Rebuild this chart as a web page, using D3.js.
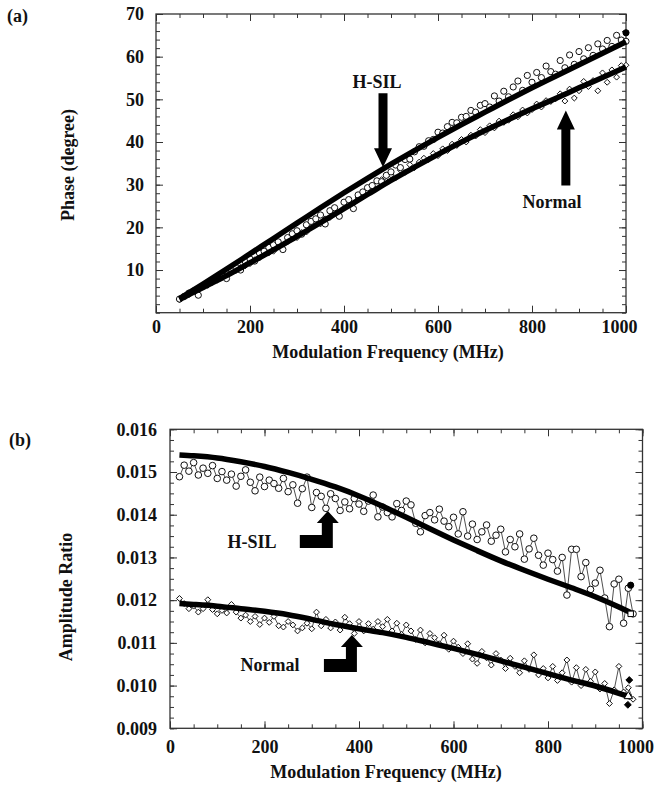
<!DOCTYPE html>
<html>
<head>
<meta charset="utf-8">
<script src="https://cdn.jsdelivr.net/npm/d3@7/dist/d3.min.js"></script>
<style>
  body { margin: 0; background: #fff; }
  svg text { font-family: "Liberation Serif", "Times New Roman", serif; font-weight: bold; fill: #111; }
  .tick line { stroke: #333; stroke-width: 1; }
  .frame { fill: none; stroke: #333; stroke-width: 1.3; }
  .fit { fill: none; stroke: #000; stroke-linecap: butt; }
  .pt { fill: #fff; stroke: #111; stroke-width: 1; }
  .zig { fill: none; stroke: #222; stroke-width: 0.8; }
</style>
</head>
<body>
<div id="chart"></div>
<script>
// ---- panel (a): phase vs modulation frequency ----
const phaseFreq = [50,60,70,80,90,100,110,120,130,140,150,160,170,180,190,200,210,220,230,240,
  250,260,270,280,290,300,310,320,330,340,350,360,370,380,390,400,410,420,430,440,
  450,460,470,480,490,500,510,520,530,540,550,560,570,580,590,600,610,620,630,640,
  650,660,670,680,690,700,710,720,730,740,750,760,770,780,790,800,810,820,830,840,
  850,860,870,880,890,900,910,920,930,940,950,960,970,980,990,1000];

const phaseHsil = [3.2,3.8,4.6,5.1,4.1,6.2,6.8,7.6,8.3,8.9,8.0,10.1,10.6,10.0,12.0,12.6,12.1,14.0,14.4,15.3,
  15.9,16.6,14.8,17.6,18.5,19.2,18.4,20.6,21.4,22.0,22.9,20.8,23.9,24.6,22.6,25.9,26.5,24.4,27.6,28.3,
  29.3,29.8,30.9,30.7,32.2,33.0,34.6,34.0,35.9,36.0,37.7,38.9,39.0,40.3,40.6,42.3,42.1,43.6,44.6,44.5,
  45.8,46.0,47.4,47.0,48.6,49.0,48.2,50.8,49.6,51.9,50.6,52.9,54.3,52.1,55.6,54.0,56.3,55.1,57.8,56.5,
  55.9,59.1,57.4,60.4,58.2,61.2,59.5,62.1,60.3,63.0,61.8,63.8,62.4,65.0,63.9,63.6];

const phaseNormal = [3.0,3.8,4.2,4.9,5.3,6.0,6.4,7.1,7.6,8.2,8.6,9.4,9.9,10.6,11.0,11.5,12.4,12.8,13.6,14.0,
  14.4,15.5,15.8,16.6,17.4,17.6,18.8,18.9,20.0,20.6,20.8,22.0,22.3,23.4,23.6,24.6,25.5,25.6,26.9,27.3,
  28.4,28.6,29.9,31.2,30.8,32.3,31.6,33.4,32.9,34.7,34.0,35.3,36.2,35.9,37.3,36.8,38.4,38.0,39.5,39.2,
  40.6,40.0,41.6,41.4,42.9,42.2,43.8,43.3,44.9,44.6,45.1,46.4,45.9,47.5,46.8,47.6,48.9,48.2,49.7,49.5,
  50.1,51.3,49.6,52.4,50.3,52.0,54.2,53.0,54.4,52.0,56.2,54.0,56.9,55.2,57.9,58.0];

const phaseFitFreq = [50,100,150,200,250,300,350,400,450,500,550,600,650,700,750,800,850,900,950,1000];
const phaseFitHsil = [3.3,6.7,10.2,13.8,17.4,21.0,24.6,28.1,31.5,34.8,38.0,41.1,44.1,47.0,49.9,52.7,55.4,58.1,60.8,63.5];
const phaseFitNormal = [3.1,5.9,8.7,11.7,14.7,17.9,21.1,24.4,27.7,31.0,34.1,37.1,40.0,42.7,45.3,47.8,50.2,52.7,55.1,57.6];

const phaseXTicks = [0,200,400,600,800,1000];
const phaseYTicks = [10,20,30,40,50,60,70];

// ---- panel (b): amplitude ratio vs modulation frequency ----
const ampFreq = [20,30,40,50,60,70,80,90,100,110,120,130,140,150,160,170,180,190,200,210,
  220,230,240,250,260,270,280,290,300,310,320,330,340,350,360,370,380,390,400,410,
  420,430,440,450,460,470,480,490,500,510,520,530,540,550,560,570,580,590,600,610,
  620,630,640,650,660,670,680,690,700,710,720,730,740,750,760,770,780,790,800,810,
  820,830,840,850,860,870,880,890,900,910,920,930,940,950,960,970,980];

const ampHsil = [0.01489,0.01516,0.01502,0.01522,0.01493,0.01509,0.01497,0.01515,0.01485,0.01501,
  0.01481,0.01495,0.01467,0.01490,0.01505,0.01476,0.01456,0.01488,0.01466,0.01481,
  0.01473,0.01462,0.01485,0.01454,0.01470,0.01427,0.01461,0.01488,0.01417,0.01452,
  0.01443,0.01415,0.01449,0.01438,0.01410,0.01430,0.01414,0.01438,0.01425,0.01408,
  0.01432,0.01446,0.01395,0.01418,0.01405,0.01395,0.01426,0.01410,0.01432,0.01423,
  0.01380,0.01360,0.01398,0.01405,0.01388,0.01413,0.01385,0.01372,0.01394,0.01355,
  0.01407,0.01350,0.01378,0.01342,0.01360,0.01376,0.01338,0.01352,0.01366,0.01313,
  0.01342,0.01325,0.01355,0.01296,0.01320,0.01345,0.01305,0.01282,0.01310,0.01295,
  0.01268,0.01300,0.01212,0.01319,0.01319,0.01255,0.01288,0.01225,0.01240,0.01270,
  0.01205,0.01138,0.01238,0.01249,0.01146,0.01228,0.01168];

const ampNormal = [0.01204,0.01192,0.01180,0.01186,0.01172,0.01180,0.01201,0.01178,0.01168,0.01176,
  0.01170,0.01190,0.01172,0.01158,0.01165,0.01150,0.01162,0.01143,0.01158,0.01148,
  0.01162,0.01140,0.01137,0.01150,0.01142,0.01128,0.01135,0.01146,0.01133,0.01172,
  0.01140,0.01155,0.01135,0.01149,0.01130,0.01160,0.01145,0.01122,0.01150,0.01128,
  0.01145,0.01132,0.01150,0.01138,0.01155,0.01128,0.01146,0.01120,0.01142,0.01128,
  0.01108,0.01130,0.01100,0.01122,0.01112,0.01098,0.01118,0.01085,0.01104,0.01090,
  0.01075,0.01098,0.01062,0.01052,0.01080,0.01065,0.01048,0.01075,0.01060,0.01040,
  0.01064,0.01045,0.01030,0.01058,0.01038,0.01072,0.01025,0.01040,0.01018,0.01045,
  0.01012,0.01030,0.01060,0.01008,0.01042,0.01000,0.01038,0.01010,0.01032,0.00992,
  0.01005,0.00958,0.00990,0.01045,0.00985,0.00995,0.00968];

const ampFitFreq = [20,50,100,150,200,250,300,350,400,450,500,550,600,650,700,750,800,850,900,950,975];
const ampFitHsil = [0.01540,0.01538,0.01533,0.01524,0.01513,0.01499,0.01483,0.01465,0.01444,0.01420,
  0.01394,0.01367,0.01341,0.01316,0.01292,0.01270,0.01249,0.01229,0.01208,0.01184,0.01171];
const ampFitNormal = [0.01192,0.01190,0.01186,0.01180,0.01174,0.01166,0.01155,0.01143,0.01133,0.01124,
  0.01113,0.01100,0.01087,0.01073,0.01058,0.01043,0.01028,0.01013,0.00999,0.00982,0.00973];

// stray end-point symbols
const ampEndMarks = [
  { f: 975, v: 0.01235, shape: "circle", filled: true },
  { f: 975, v: 0.01168, shape: "square", filled: false },
  { f: 972, v: 0.01013, shape: "diamond", filled: true },
  { f: 970, v: 0.00975, shape: "triangle", filled: false },
  { f: 969, v: 0.00955, shape: "diamond", filled: true }
];
const phaseEndMarks = [ { f: 1000, v: 65.6, shape: "circle", filled: true } ];

const ampXTicks = [0,200,400,600,800,1000];
const ampYTicks = [0.009,0.010,0.011,0.012,0.013,0.014,0.015,0.016];

const width = 655, height = 787;
const fontSize = 18;
const fontFamily = "'Liberation Serif', 'Times New Roman', Times, serif";

const svg = d3.select("#chart").append("svg")
  .attr("width", width)
  .attr("height", height);

const symbolType = { circle: d3.symbolCircle, square: d3.symbolSquare, diamond: d3.symbolDiamond2, triangle: d3.symbolTriangle };

function drawFrame(g, x, y, o) {

  const [x0, x1] = x.range();
  const [y0, y1] = y.range();

  const bottom = g.append("g").attr("transform", `translate(0,${y0})`);
  bottom.call(d3.axisBottom(x).tickValues(x.ticks(20)).tickSize(-4).tickFormat(""));
  bottom.append("g").call(d3.axisBottom(x).tickValues(o.xTicks).tickSize(-7).tickPadding(o.xPad).tickFormat(d3.format("d")));
  // last label sits a little left of its tick, as in the print
  bottom.selectAll(".tick text").filter((d) => d === 1000).attr("dx", -7);

  const top = g.append("g").attr("transform", `translate(0,${y1})`);
  top.call(d3.axisTop(x).tickValues(x.ticks(20)).tickSize(-4).tickFormat(""));
  top.append("g").call(d3.axisTop(x).tickValues(o.xTicks).tickSize(-7).tickFormat(""));

  const left = g.append("g").attr("transform", `translate(${x0},0)`);
  left.call(d3.axisLeft(y).tickValues(o.yMinor).tickSize(-4).tickFormat(""));
  left.append("g").call(d3.axisLeft(y).tickValues(o.yTicks).tickSize(-7).tickPadding(o.yPad).tickFormat(o.yFormat));

  const right = g.append("g").attr("transform", `translate(${x1},0)`);
  right.call(d3.axisRight(y).tickValues(o.yMinor).tickSize(-4).tickFormat(""));
  right.append("g").call(d3.axisRight(y).tickValues(o.yTicks).tickSize(-7).tickFormat(""));

  g.selectAll(".domain").remove();
  g.selectAll("g").attr("font-family", null).attr("font-size", null);
  g.selectAll(".tick text")
    .style("font-size", fontSize + "px")
    .style("font-family", fontFamily)
    .style("font-weight", "bold");

  g.append("rect")
    .attr("class", "frame")
    .attr("x", x0).attr("y", y1)
    .attr("width", x1 - x0).attr("height", y0 - y1);
}

function drawPoints(g, x, y, freq, vals, kind, r) {

  const pts = d3.zip(freq, vals);
  if (kind === "circle") {
    g.append("g").selectAll("circle")
      .data(pts).enter()
      .append("circle")
        .attr("class", "pt")
        .attr("cx", (d) => x(d[0]))
        .attr("cy", (d) => y(d[1]))
        .attr("r", r);
  } else {
    g.append("g").selectAll("path")
      .data(pts).enter()
      .append("path")
        .attr("class", "pt")
        .attr("d", d3.symbol(d3.symbolDiamond2, r))
        .attr("transform", (d) => `translate(${x(d[0])},${y(d[1])})`);
  }
}

function drawFit(g, x, y, freq, vals, w) {
  const line = d3.line().x((d) => x(d[0])).y((d) => y(d[1])).curve(d3.curveMonotoneX);
  g.append("path")
    .attr("class", "fit")
    .attr("stroke-width", w)
    .attr("d", line(d3.zip(freq, vals)));
}

function drawZigzag(g, x, y, freq, vals) {
  const line = d3.line().x((d) => x(d[0])).y((d) => y(d[1]));
  g.append("path")
    .attr("class", "zig")
    .attr("d", line(d3.zip(freq, vals)));
}

function drawMarks(g, x, y, marks) {
  g.append("g").selectAll("path")
    .data(marks).enter()
    .append("path")
      .attr("d", (d) => d3.symbol(symbolType[d.shape], 30)())
      .attr("transform", (d) => `translate(${x(d.f)},${y(d.v)})`)
      .style("fill", (d) => d.filled ? "#000" : "#fff")
      .style("stroke", "#000")
      .style("stroke-width", 1);
}

// straight arrow, tip at (tx,ty), dir = 1 points down, -1 points up
function straightArrow(g, tx, ty, dir, len) {
  const hw = 9, hh = 19, sw = 4.5;
  const p = d3.path();
  p.moveTo(tx, ty);
  p.lineTo(tx + hw, ty - dir * hh);
  p.lineTo(tx + sw, ty - dir * hh);
  p.lineTo(tx + sw, ty - dir * len);
  p.lineTo(tx - sw, ty - dir * len);
  p.lineTo(tx - sw, ty - dir * hh);
  p.lineTo(tx - hw, ty - dir * hh);
  p.closePath();
  g.append("path").attr("d", p.toString()).style("fill", "#000");
}

// elbow arrow pointing up, with bar running to the left
function elbowArrow(g, tx, ty) {
  const p = d3.path();
  p.moveTo(tx, ty);
  p.lineTo(tx + 11, ty + 12);
  p.lineTo(tx + 5, ty + 12);
  p.lineTo(tx + 5, ty + 37);
  p.lineTo(tx - 28, ty + 37);
  p.lineTo(tx - 28, ty + 24);
  p.lineTo(tx - 6, ty + 24);
  p.lineTo(tx - 6, ty + 12);
  p.lineTo(tx - 11, ty + 12);
  p.closePath();
  g.append("path").attr("d", p.toString()).style("fill", "#000");
}

function label(g, text, px, py, anchor) {
  g.append("text")
    .attr("x", px).attr("y", py)
    .attr("text-anchor", anchor || "middle")
    .style("font-size", fontSize + "px")
    .style("font-family", fontFamily)
    .text(text);
}

function yTitle(g, text, px, py) {
  g.append("text")
    .attr("transform", `translate(${px},${py})rotate(-90)`)
    .attr("text-anchor", "middle")
    .style("font-size", fontSize + "px")
    .style("font-family", fontFamily)
    .text(text);
}

// ---------- panel (a) ----------
{
  const x = d3.scaleLinear().domain([0, 1000]).range([156, 626]);
  const y = d3.scaleLinear().domain([0, 70]).range([312.7, 14]);
  const g = svg.append("g").attr("class", "panel-a");

  drawFrame(g, x, y, {
    xTicks: phaseXTicks, yTicks: phaseYTicks, yMinor: y.ticks(35),
    xPad: 7.5, yPad: 12, yFormat: d3.format("d")
  });

  drawPoints(g, x, y, phaseFreq, phaseNormal, "diamond", 22);
  drawPoints(g, x, y, phaseFreq, phaseHsil, "circle", 3.1);
  drawFit(g, x, y, phaseFitFreq, phaseFitNormal, 5.5);
  drawFit(g, x, y, phaseFitFreq, phaseFitHsil, 5.5);
  drawMarks(g, x, y, phaseEndMarks);

  straightArrow(g, x(483), y(34.1), 1, 74);
  straightArrow(g, x(872), y(47.4), -1, 75);
  label(g, "H-SIL", 377, 88);
  label(g, "Normal", 552, 208);

  yTitle(g, "Phase (degree)", 74, 165);
  label(g, "Modulation Frequency (MHz)", 388, 358);
  label(g, "(a)", 7, 22, "start");
}

// ---------- panel (b) ----------
{
  const x = d3.scaleLinear().domain([0, 1000]).range([170, 642.5]);
  const y = d3.scaleLinear().domain([0.009, 0.016]).range([728.3, 429.3]);
  const g = svg.append("g").attr("class", "panel-b");

  drawFrame(g, x, y, {
    xTicks: ampXTicks, yTicks: ampYTicks, yMinor: d3.range(0.009, 0.01601, 0.00025),
    xPad: 12, yPad: 13, yFormat: d3.format(".3f")
  });

  drawZigzag(g, x, y, ampFreq, ampHsil);
  drawZigzag(g, x, y, ampFreq, ampNormal);
  drawPoints(g, x, y, ampFreq, ampNormal, "diamond", 22);
  drawPoints(g, x, y, ampFreq, ampHsil, "circle", 3.3);
  drawFit(g, x, y, ampFitFreq, ampFitNormal, 5.5);
  drawFit(g, x, y, ampFitFreq, ampFitHsil, 5.5);
  drawMarks(g, x, y, ampEndMarks);

  elbowArrow(g, x(334), y(0.014087));
  elbowArrow(g, x(385), y(0.011183));
  label(g, "H-SIL", 252, 548);
  label(g, "Normal", 270, 671);

  yTitle(g, "Amplitude Ratio", 72, 597);
  label(g, "Modulation Frequency (MHz)", 386, 778);
  label(g, "(b)", 9, 446, "start");
}
</script>
</body>
</html>
